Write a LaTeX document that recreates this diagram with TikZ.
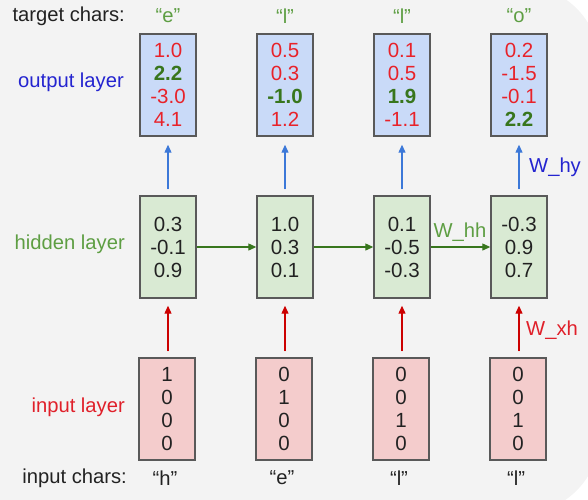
\documentclass[tikz,border=0pt]{standalone}
\usepackage{fontspec}
\setmainfont{Liberation Sans}
\usetikzlibrary{arrows.meta}
\definecolor{bg}{HTML}{F3F3F3}
\definecolor{outfill}{HTML}{C9DAF8}
\definecolor{hidfill}{HTML}{D9EAD3}
\definecolor{infill}{HTML}{F4CCCC}
\definecolor{boxline}{HTML}{595959}
\definecolor{numred}{HTML}{E8222A}
\definecolor{numgreen}{HTML}{38761D}
\definecolor{lblgreen}{HTML}{5E9E43}
\definecolor{lblblue}{HTML}{2424D0}
\definecolor{lblred}{HTML}{E0202A}
\definecolor{arrblue}{HTML}{3C78D8}
\definecolor{arrred}{HTML}{CC0000}
\definecolor{arrgreen}{HTML}{38761D}
\definecolor{txt}{HTML}{222222}
\newcommand{\R}[1]{\textcolor{numred}{#1}}
\newcommand{\G}[1]{\textcolor{numgreen}{\bfseries #1}}
\begin{document}
\begin{tikzpicture}[x=1pt,y=-1pt,
  every node/.style={font=\fontsize{20.2}{23}\selectfont, text=txt, inner sep=0pt},
  vecbox/.style={draw=boxline, line width=1.4pt, minimum width=56pt, minimum height=102pt, align=center, font=\fontsize{20.5}{23}\selectfont},
  outbox/.style={vecbox, fill=outfill},
  hidbox/.style={vecbox, fill=hidfill},
  inbox/.style={vecbox, fill=infill},
  rowlabel/.style={anchor=east},
  tip/.style={-{Triangle[length=8pt,width=7pt]}, line width=1.2pt},
  upblue/.style={tip, draw=arrblue, fill=arrblue, shorten <=6pt, shorten >=8pt},
  upred/.style={tip, draw=arrred, fill=arrred, shorten <=6pt, shorten >=7pt},
  across/.style={tip, draw=arrgreen, fill=arrgreen}
]
\useasboundingbox (0,0) rectangle (588,499);
\fill[bg, rounded corners=80pt] (-100,-15) rectangle (600,514);
\fill[bg] (-100,-15) rectangle (300,514);

% labels
\node[rowlabel] (tc) at (125,16) {target chars:};
\node[rowlabel, text=lblblue] (ol) at (124,82) {output layer};
\node[rowlabel, text=lblgreen] (hl) at (125,244) {hidden layer};
\node[rowlabel, text=lblred] (il) at (125,407) {input layer};
\node[rowlabel] (ic) at (127,478) {input chars:};

% output boxes
\node[outbox] (o1) at (168,85) {\R{1.0}\\\G{2.2}\\\R{-3.0}\\\R{4.1}};
\node[outbox] (o2) at (285,85) {\R{0.5}\\\R{0.3}\\\G{-1.0}\\\R{1.2}};
\node[outbox] (o3) at (402,85) {\R{0.1}\\\R{0.5}\\\G{1.9}\\\R{-1.1}};
\node[outbox] (o4) at (519,85) {\R{0.2}\\\R{-1.5}\\\R{-0.1}\\\G{2.2}};

% hidden boxes
\node[hidbox] (h1) at (168,247) {0.3\\-0.1\\0.9};
\node[hidbox] (h2) at (285,247) {1.0\\0.3\\0.1};
\node[hidbox] (h3) at (402,247) {0.1\\-0.5\\-0.3};
\node[hidbox] (h4) at (519,247) {-0.3\\0.9\\0.7};

% input boxes
\node[inbox] (i1) at (167,409) {1\\0\\0\\0};
\node[inbox] (i2) at (284,409) {0\\1\\0\\0};
\node[inbox] (i3) at (401,409) {0\\0\\1\\0};
\node[inbox] (i4) at (518,409) {0\\0\\1\\0};

% target chars
\node[text=lblgreen] (t1) at (168,16) {“e”};
\node[text=lblgreen] (t2) at (285,16) {“l”};
\node[text=lblgreen] (t3) at (402,16) {“l”};
\node[text=lblgreen] (t4) at (519,16) {“o”};

% input chars
\node (c1) at (165,478) {“h”};
\node (c2) at (282,478) {“e”};
\node (c3) at (399,478) {“l”};
\node (c4) at (516,478) {“l”};

% arrows
\foreach \k in {1,2,3,4} {
  \draw[upblue] (h\k.north) -- (o\k.south);
  \draw[upred] (i\k.north -| h\k.south) -- (h\k.south);
}
\draw[across] (h1.east) -- (h2.west);
\draw[across] (h2.east) -- (h3.west);
\draw[across] (h3.east) -- (h4.west);

% weight labels
\node[text=lblblue, anchor=west] (why) at (529,167) {W\_hy};
\node[text=lblred, anchor=west] (wxh) at (526,330) {W\_xh};
\node[text=lblgreen] (whh) at (460,232) {W\_hh};
\end{tikzpicture}
\end{document}
